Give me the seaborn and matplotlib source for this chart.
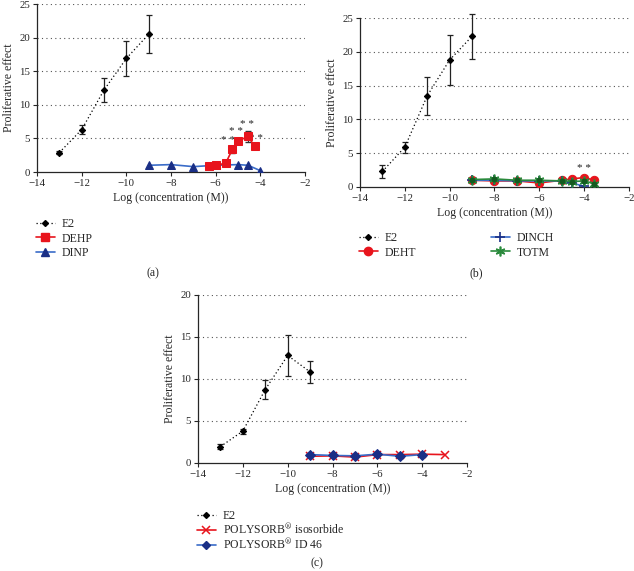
import numpy as np
import matplotlib
matplotlib.use("Agg")
import matplotlib.pyplot as plt
import seaborn as sns
from matplotlib.lines import Line2D

# ---- data ----
# (a)
a_e2_x = [-13, -12, -11, -10, -9]
a_e2_y = [2.9, 6.3, 12.2, 16.9, 20.5]
a_e2_err = [0.2, 0.7, 1.8, 2.6, 2.8]
a_dehp_x = [-6.3, -6.0, -5.55, -5.25, -5.0, -4.55, -4.25]
a_dehp_y = [0.9, 1.0, 1.3, 3.4, 4.6, 5.3, 3.8]
a_dehp_err = [0.1, 0.1, 0.2, 0.5, 0.5, 0.8, 0.2]
a_dinp_x = [-9, -8, -7, -6, -5, -4.55, -4]
a_dinp_y = [1.0, 1.1, 0.8, 1.0, 1.1, 1.0, 0.2]
a_star_x = [-5.45, -5.1, -4.6, -4.2]
a_star_y = [4.7, 6.0, 7.1, 5.0]

# (b)
b_e2_x = [-13, -12, -11, -10, -9]
b_e2_y = [2.3, 5.9, 13.5, 18.8, 22.3]
b_e2_err = [0.95, 0.8, 2.8, 3.7, 3.3]
b_deht_x = [-9, -8, -7, -6, -5, -4.55, -4, -3.55]
b_deht_y = [1.0, 0.9, 0.9, 0.6, 1.0, 1.2, 1.4, 1.0]
b_dinch_x = [-9, -8, -7, -6, -5, -4.55, -4]
b_dinch_y = [1.0, 1.0, 0.9, 0.9, 0.9, 0.6, 0.1]
b_totm_x = [-9, -8, -7, -6, -5, -4.55, -4, -3.55]
b_totm_y = [1.1, 1.2, 1.0, 1.0, 0.9, 0.8, 0.9, 0.5]
b_star_x = [-4.0]
b_star_y = [2.8]

# (c)
c_e2_x = [-13, -12, -11, -10, -9]
c_e2_y = [1.95, 3.8, 8.75, 12.8, 10.85]
c_e2_err = [0.3, 0.3, 1.1, 2.4, 1.35]
c_iso_x = [-9, -8, -7, -6, -5, -4, -3]
c_iso_y = [0.8, 0.85, 0.7, 1.0, 1.0, 1.05, 1.0]
c_id46_x = [-9, -8, -7, -6, -5, -4]
c_id46_y = [1.0, 0.9, 0.85, 1.05, 0.8, 1.0]

x_ticks = [-14, -12, -10, -8, -6, -4, -2]

sns.set_style("ticks")
plt.rcParams['font.family'] = ['Liberation Serif', 'DejaVu Serif']
plt.rcParams['mathtext.fontset'] = 'stix'

RED = '#e8141c'
NAVY = '#1a2f86'
BLUE = '#3a6cc8'
GREEN = '#2a8a3c'
DKGREEN = '#145a20'

fig = plt.figure(figsize=(6.34, 5.71), dpi=100)
W, H = 634, 571


def make_ax(left, top, right, bottom, ymax):
    ax = fig.add_axes([left / W, 1 - bottom / H, (right - left) / W, (bottom - top) / H])
    ax.set_xlim(-14, -2)
    ax.set_ylim(0, ymax)
    ax.set_xticks(x_ticks)
    ax.set_yticks(np.arange(0, ymax + 1, 5))
    for v in np.arange(5, ymax + 1, 5):
        ax.axhline(v, color='#555555', linestyle=(0, (1, 3)), linewidth=0.8, zorder=0)
    sns.despine(ax=ax)
    ax.tick_params(labelsize=7.8, length=3, width=0.8, pad=2)
    for s in ['left', 'bottom']:
        ax.spines[s].set_linewidth(0.9)
    ax.set_xlabel('Log (concentration (M))', fontsize=8.5, labelpad=3)
    ax.set_ylabel('Proliferative effect', fontsize=8.5, labelpad=3)
    return ax


def e2(ax, x, y, err):
    sns.lineplot(x=x, y=y, ax=ax, color='black', linestyle=(0, (1, 2)), linewidth=0.9,
                 marker='D', markersize=3.2, markeredgecolor='black', zorder=5)
    eb = ax.errorbar(x, y, yerr=err, fmt='none', ecolor='#222222', elinewidth=0.9,
                     capsize=2.5, capthick=0.9, zorder=4)
    for art in eb.lines[1] + eb.lines[2]:
        art.set_clip_on(False)


def stars(ax, xs, ys):
    for x, y in zip(xs, ys):
        ax.text(x, y, '* *', fontsize=8, ha='center', va='center', color='#222222')


# ---- (a) ----
ax = make_ax(37, 4, 305, 172, 25)
e2(ax, a_e2_x, a_e2_y, a_e2_err)
sns.lineplot(x=a_dinp_x, y=a_dinp_y, ax=ax, color=BLUE, linewidth=1.2, marker='^',
             markersize=6, markerfacecolor=NAVY, markeredgecolor=NAVY, zorder=3)
sns.lineplot(x=a_dehp_x, y=a_dehp_y, ax=ax, color=RED, linewidth=1.2, marker='s',
             markersize=6, markerfacecolor=RED, markeredgecolor=RED, zorder=4)
ax.errorbar(a_dehp_x, a_dehp_y, yerr=a_dehp_err, fmt='none', ecolor='#333333',
            elinewidth=0.8, capsize=2, zorder=3)
stars(ax, a_star_x, a_star_y)
h_e2 = Line2D([], [], color='black', linestyle=(0, (1, 2)), linewidth=0.9, marker='D', markersize=3)
h_dehp = Line2D([], [], color=RED, linewidth=1.2, marker='s', markersize=6)
h_dinp = Line2D([], [], color=BLUE, linewidth=1.2, marker='^', markersize=6,
                markerfacecolor=NAVY, markeredgecolor=NAVY)
leg_kw = dict(frameon=False, fontsize=8.5, handlelength=1.6, handletextpad=0.6,
              bbox_transform=fig.transFigure, loc='upper left',
              borderaxespad=0, borderpad=0)
ax.legend([h_e2, h_dehp, h_dinp], ['E2', 'DEHP', 'DINP'], labelspacing=0.22,
          bbox_to_anchor=(36 / W, 1 - 218 / H), **leg_kw)
fig.text(153 / W, 1 - 273 / H, '(a)', ha='center', va='center', fontsize=8.5)

# ---- (b) ----
ax = make_ax(360, 18, 629, 187, 25)
e2(ax, b_e2_x, b_e2_y, b_e2_err)
sns.lineplot(x=b_deht_x, y=b_deht_y, ax=ax, color=RED, linewidth=1.2, marker='o',
             markersize=6, markerfacecolor=RED, markeredgecolor=RED, zorder=3)
sns.lineplot(x=b_dinch_x, y=b_dinch_y, ax=ax, color=BLUE, linewidth=1.2, marker='+',
             markersize=7, markeredgecolor=NAVY, markeredgewidth=1.2, zorder=4)
sns.lineplot(x=b_totm_x, y=b_totm_y, ax=ax, color=GREEN, linewidth=1.2, marker=(6, 2, 0),
             markersize=7, markeredgecolor=GREEN, markeredgewidth=1.2, zorder=5)
sns.lineplot(x=b_totm_x, y=b_totm_y, ax=ax, color=DKGREEN, linewidth=0, marker='o',
             markersize=3.5, markeredgecolor=DKGREEN, zorder=6)
stars(ax, b_star_x, b_star_y)
h_deht = Line2D([], [], color=RED, linewidth=1.2, marker='o', markersize=6)
h_dinch = Line2D([], [], color=BLUE, linewidth=1.2, marker='+', markersize=7,
                 markeredgecolor=NAVY, markeredgewidth=1.2)
h_totm = Line2D([], [], color=GREEN, linewidth=1.2, marker=(6, 2, 0), markersize=7,
                markeredgewidth=1.2)
ax.legend([h_e2, h_deht, h_dinch, h_totm], ['E2', 'DEHT', 'DINCH', 'TOTM'], ncol=2,
          columnspacing=6.3, labelspacing=0.22,
          bbox_to_anchor=(359 / W, 1 - 232 / H), **leg_kw)
fig.text(476 / W, 1 - 273 / H, '(b)', ha='center', va='center', fontsize=8.5)

# ---- (c) ----
ax = make_ax(198, 295, 467, 463, 20)
e2(ax, c_e2_x, c_e2_y, c_e2_err)
sns.lineplot(x=c_id46_x, y=c_id46_y, ax=ax, color=BLUE, linewidth=1.2, marker='D',
             markersize=5, markerfacecolor=NAVY, markeredgecolor=NAVY, zorder=4)
sns.lineplot(x=c_iso_x, y=c_iso_y, ax=ax, color=RED, linewidth=1.2, marker='x',
             markersize=6, markeredgecolor=RED, markeredgewidth=1.1, zorder=3)
h_iso = Line2D([], [], color=RED, linewidth=1.2, marker='x', markersize=6, markeredgewidth=1.1)
h_id46 = Line2D([], [], color=BLUE, linewidth=1.2, marker='D', markersize=4,
                markerfacecolor=NAVY, markeredgecolor=NAVY)
ax.legend([h_e2, h_iso, h_id46],
          ['E2', r'POLYSORB$^{\circledR}$ isosorbide', r'POLYSORB$^{\circledR}$ ID 46'],
          labelspacing=0.02, bbox_to_anchor=(197 / W, 1 - 510 / H), **leg_kw)
fig.text(317 / W, 1 - 563 / H, '(c)', ha='center', va='center', fontsize=8.5)

fig.savefig('out.png', dpi=100)
